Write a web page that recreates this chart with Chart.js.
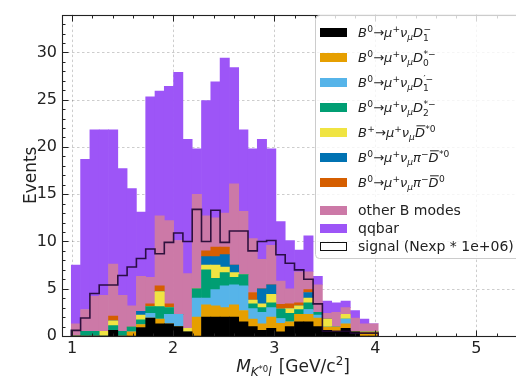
<!DOCTYPE html>
<html>
<head>
<meta charset="utf-8">
<script src="https://cdn.jsdelivr.net/npm/chart.js@4.4.1/dist/chart.umd.min.js"></script>
<style>
  html, body { margin: 0; padding: 0; overflow: hidden; background: #ffffff; width: 516px; height: 378px; }
  #c { position: absolute; left: 0; top: 0; }
</style>
</head>
<body>
<canvas id="c" width="530" height="378" style="width:530px;height:378px"></canvas>
<script>
// ---------------- data ----------------
const binStart = 0.992;       // first bin edge (GeV/c^2)
const binWidth = 0.092;       // bin width
const xTicks = [1, 2, 3, 4, 5];
const yTicks = [0, 5, 10, 15, 20, 25, 30];

const seriesNames = [
  "B0 -> mu+ nu D1-", "B0 -> mu+ nu D0*-", "B0 -> mu+ nu D1'-", "B0 -> mu+ nu D2*-",
  "B+ -> mu+ nu D*0bar", "B0 -> mu+ nu pi- D*0bar", "B0 -> mu+ nu pi- D0bar",
  "other B modes", "qqbar"
];

const sD1     = [0,0,0,0,0.6,0,0,0.9,1.9,1.3,1.3,1.0,0.45,0,2.0,2.0,2.0,2.0,1.5,1.0,0.6,0.8,0.45,1.0,1.5,1.5,1.0,0.6,0.45,0.8,0.45,0,0];
const sD0s    = [0,0,0,0,0,0,0.45,0.3,0,0.5,0,0,0,2.0,1.3,1.2,1.0,1.3,1.2,0.8,0.7,1.2,0.9,0.5,0.8,0.8,0.9,0.35,0.5,0.5,0,0.45,0.45];
const sD1p    = [0,0,0,0,0,0,0,0,0.5,0,1.0,1.3,0,2.0,0.7,1.7,2.3,2.1,2.6,1.1,1.2,1.0,0.5,0,0,0.5,0.3,0,0,0.5,0,0,0];
const sD2s    = [0,0.5,0.5,0,0.5,0.5,0.5,0.5,0.7,1.3,0.7,0,0,1.0,3.0,1.2,1.4,0.8,1.2,0.5,0.5,0.5,1.0,0.9,0.5,0.7,0.3,0,0,0,0,0,0];
const sBpDs0  = [0,0,0,0.5,0.5,0,0,0.5,0,1.6,0,0,0.35,0,0.5,1.4,0.6,0.5,0,0.4,0.4,0.9,0,0.5,0.4,0.5,0,0.85,0,0.5,0,0,0];
const sPiDs0  = [0,0,0,0,0,0,0,0.4,0,0,0,0,0,0,0.9,0.9,1.3,0.8,0,0,1.6,1.0,0,0,0,0.6,0,0,0,0,0,0,0];
const sPiD0   = [0,0,0,0,0.5,0,0,0,0.3,0.6,0.4,0,0,0,0.6,1.0,0.8,0,0,0.8,0,0,0.5,0.5,0.3,0.3,0,0,0,0,0,0,0];
const sOtherB = [1.3,2.3,3.7,3.8,5.5,3.8,2.25,3.7,2.8,7.4,8.8,7.8,5.8,10.0,3.7,3.1,3.6,8.6,6.7,5.7,3.1,4.2,2.45,1.6,3.3,1.9,2.9,0.6,1.55,0.7,1.45,0.85,0.85];
const sQQbar  = [6.2,15.9,17.6,17.5,14.2,13.4,12.4,6.8,19.1,13.2,14.2,17.8,14.2,4.8,12.2,14.4,16.4,12.3,8.6,9.5,12.7,10.2,6.3,5.1,2.3,3.8,0.9,1.3,1.0,0.7,0.8,0.5,0];
const sSignal = [0.6,1.9,4.5,5.4,5.4,6.4,7.3,8.2,9.2,8.7,9.9,10.9,10.0,13.4,10.0,13.3,9.9,11.1,11.1,9.0,10.0,10.1,8.6,7.7,7.0,6.0,3.4,0.5,0.5,0.5,0.3,0.3,0.3];

const stackSeries = [sD1, sD0s, sD1p, sD2s, sBpDs0, sPiDs0, sPiD0, sOtherB, sQQbar];
const stackColors = ['#000000', '#E69F00', '#56B4E9', '#009E73', '#F0E442', '#0072B2', '#D55E00', '#CC79A7', '#9d55f7'];
const signalColor = 'rgba(30,5,50,0.9)';

// ---------------- build datasets ----------------
const nBins = sSignal.length;
const centers = [];
for (let i = 0; i < nBins; i++) centers.push(binStart + (i + 0.5) * binWidth);

const datasets = stackSeries.map((arr, k) => ({
  type: 'bar',
  label: seriesNames[k],
  data: arr.map((v, i) => ({ x: centers[i], y: v })),
  backgroundColor: stackColors[k],
  borderWidth: 0,
  barPercentage: 1.0,
  categoryPercentage: 1.0,
  order: 1
}));

// signal step outline (histtype='step')
const stepPts = [{ x: binStart, y: 0 }];
for (let i = 0; i < nBins; i++) {
  stepPts.push({ x: binStart + i * binWidth, y: sSignal[i] });
  stepPts.push({ x: binStart + (i + 1) * binWidth, y: sSignal[i] });
}
stepPts.push({ x: binStart + nBins * binWidth, y: 0 });
datasets.push({
  type: 'line',
  label: 'signal',
  data: stepPts,
  stack: 'signal',
  borderColor: signalColor,
  borderWidth: 1.6,
  pointRadius: 0,
  tension: 0,
  fill: false,
  order: -1
});

// ---------------- rich text helper (mathtext-like) ----------------
const FONT = '"DejaVu Sans", "Liberation Sans", sans-serif';
function drawRich(ctx, x, y, runs, base, draw) {
  let cx = x, pend = 0;
  for (const r of runs) {
    const sz = base * (r.s || 1);
    ctx.font = (r.it ? 'italic ' : '') + sz.toFixed(2) + 'px ' + FONT;
    const w = ctx.measureText(r.t).width;
    const dx = (r.dx || 0) * base;
    const sx = cx + dx, sy = y + (r.dy || 0) * base;
    if (draw) {
      ctx.fillText(r.t, sx, sy);
      if (r.bar) {
        ctx.save();
        ctx.lineWidth = Math.max(1, base * 0.06);
        ctx.strokeStyle = ctx.fillStyle;
        ctx.beginPath();
        const by = sy - sz * 0.86;
        ctx.moveTo(sx + sz * 0.12, by);
        ctx.lineTo(sx + w + sz * 0.02, by);
        ctx.stroke();
        ctx.restore();
      }
    }
    if (r.stack) { pend = Math.max(pend, w + dx); continue; }
    cx += Math.max(w + dx + (r.after || 0) * base, pend);
    pend = 0;
  }
  return cx - x;
}
const SUP = -0.42, SUB = 0.22, S = 0.7;
const tB0 = [{ t: 'B', it: 1 }, { t: '0', s: S, dy: SUP, dx: 0.02 }];
const tBp = [{ t: 'B', it: 1 }, { t: '+', s: S, dy: SUP, dx: 0.02 }];
const tArr = [{ t: '\u2192', dx: 0.02, after: 0.0 }];
const tMuNu = [{ t: '\u03bc', it: 1 }, { t: '+', s: S, dy: SUP }, { t: '\u03bd', it: 1 }, { t: '\u03bc', it: 1, s: S, dy: SUB }];
function tD(sub, sup) { return [{ t: 'D', it: 1 }, { t: sub, s: S, dy: 0.3, stack: 1 }, { t: sup, s: S, dy: SUP, dx: 0.03 }]; }
function tDbar(sup) { return [{ t: 'D', it: 1, bar: 1 }, { t: sup, s: S, dy: SUP, dx: 0.03 }]; }
const tPi = [{ t: '\u03c0', it: 1 }, { t: '\u2212', s: S, dy: SUP }];
const legendItems = [
  { color: stackColors[0], math: 1, runs: [...tB0, ...tArr, ...tMuNu, ...tD('1', '\u2212')] },
  { color: stackColors[1], math: 1, runs: [...tB0, ...tArr, ...tMuNu, ...tD('0', '*\u2212')] },
  { color: stackColors[2], math: 1, runs: [...tB0, ...tArr, ...tMuNu, ...tD('1', '\u2032\u2212')] },
  { color: stackColors[3], math: 1, runs: [...tB0, ...tArr, ...tMuNu, ...tD('2', '*\u2212')] },
  { color: stackColors[4], math: 1, runs: [...tBp, ...tArr, ...tMuNu, ...tDbar('*0')] },
  { color: stackColors[5], math: 1, runs: [...tB0, ...tArr, ...tMuNu, ...tPi, ...tDbar('*0')] },
  { color: stackColors[6], math: 1, runs: [...tB0, ...tArr, ...tMuNu, ...tPi, ...tDbar('0')] },
  { color: stackColors[7], runs: [{ t: 'other B modes' }] },
  { color: stackColors[8], runs: [{ t: 'qqbar' }] },
  { color: null, runs: [{ t: 'signal (Nexp * 1e+06)' }] }
];
const legendRowY = [32, 57, 82, 107, 132, 157, 182, 210, 228, 246];

// ---------------- decorations plugin ----------------
const deco = {
  id: 'deco',
  beforeDatasetsDraw(chart) {
    const { ctx, chartArea: a, scales: { x, y } } = chart;
    ctx.save();
    ctx.strokeStyle = 'rgba(0,0,0,0.22)';
    ctx.lineWidth = 0.9;
    ctx.setLineDash([2.5, 2.5]);
    for (const v of xTicks) {
      const px = Math.round(x.getPixelForValue(v)) + 0.5;
      ctx.beginPath(); ctx.moveTo(px, a.top); ctx.lineTo(px, a.bottom); ctx.stroke();
    }
    for (const v of yTicks) {
      if (v === 0) continue;
      const py = Math.round(y.getPixelForValue(v)) + 0.5;
      ctx.beginPath(); ctx.moveTo(a.left, py); ctx.lineTo(a.right, py); ctx.stroke();
    }
    ctx.restore();
  },
  afterDatasetsDraw(chart) {
    const { ctx, chartArea: a, scales: { x, y } } = chart;
    ctx.save();
    // frame
    ctx.strokeStyle = '#222';
    ctx.lineWidth = 1.1;
    ctx.strokeRect(Math.round(a.left) + 0.5, Math.round(a.top) + 0.5, Math.round(a.right - a.left), Math.round(a.bottom - a.top));
    // inward ticks
    ctx.lineWidth = 1;
    const L = Math.round(a.left) + 0.5, R = Math.round(a.right) + 0.5, T = Math.round(a.top) + 0.5, B = Math.round(a.bottom) + 0.5;
    ctx.beginPath();
    for (let v = 0; v <= 34; v += 1) {
      const py = Math.round(y.getPixelForValue(v)) + 0.5;
      const len = (v % 5 === 0) ? 6 : 3;
      ctx.moveTo(L, py); ctx.lineTo(L + len, py);
      ctx.moveTo(R, py); ctx.lineTo(R - len, py);
    }
    for (let k = 5; k <= 27; k++) {
      const v = k * 0.2;
      const px = Math.round(x.getPixelForValue(v)) + 0.5;
      const len = (k % 5 === 0) ? 6 : 3;
      ctx.moveTo(px, B); ctx.lineTo(px, B - len);
      ctx.moveTo(px, T); ctx.lineTo(px, T + len);
    }
    ctx.stroke();

    // axis titles
    ctx.fillStyle = '#222';
    ctx.textBaseline = 'alphabetic';
    ctx.textAlign = 'left';
    ctx.save();
    ctx.translate(36, (a.top + a.bottom) / 2);
    ctx.rotate(-Math.PI / 2);
    ctx.font = '17px ' + FONT;
    ctx.textAlign = 'center';
    ctx.fillText('Events', 0, 0);
    ctx.restore();

    const xt = [
      { t: 'M', it: 1 },
      { t: 'K', it: 1, s: 0.7, dy: 0.25 },
      { t: '*0', s: 0.5, dy: -0.02 },
      { t: 'l', it: 1, s: 0.7, dy: 0.25, after: 0.1 },
      { t: ' [GeV/c' },
      { t: '2', s: 0.7, dy: -0.42 },
      { t: ']' }
    ];
    const xs = 17;
    const w = drawRich(ctx, 0, 0, xt, xs, false);
    drawRich(ctx, 293 - w / 2, 372, xt, xs, true);

    // legend
    const lx = 315, ly = 15, lw = 208, lh = 243;
    ctx.beginPath();
    if (ctx.roundRect) ctx.roundRect(lx + 0.5, ly + 0.5, lw, lh, 4); else ctx.rect(lx + 0.5, ly + 0.5, lw, lh);
    ctx.fillStyle = 'rgba(255,255,255,0.8)';
    ctx.fill();
    ctx.strokeStyle = '#cccccc';
    ctx.lineWidth = 1;
    ctx.stroke();
    legendItems.forEach((it, i) => {
      const cy = legendRowY[i];
      if (it.color) {
        ctx.fillStyle = it.color;
        ctx.fillRect(320, cy - 4, 27, 9);
      } else {
        ctx.fillStyle = '#fff';
        ctx.fillRect(320.5, cy - 3.5, 26, 8);
        ctx.strokeStyle = '#111';
        ctx.lineWidth = 1;
        ctx.strokeRect(320.5, cy - 3.5, 26, 8);
      }
      ctx.fillStyle = '#222';
      drawRich(ctx, 358, cy + 5, it.runs, it.math ? 13 : 14, true);
    });
    ctx.restore();
  }
};

// ---------------- chart ----------------
new Chart(document.getElementById('c').getContext('2d'), {
  type: 'bar',
  data: { datasets },
  options: {
    responsive: false,
    animation: false,
    devicePixelRatio: 1,
    layout: { padding: { top: 7, right: 3, left: 0, bottom: 0 } },
    plugins: { legend: { display: false }, tooltip: { enabled: false } },
    scales: {
      x: {
        type: 'linear', min: 0.9, max: 5.5, stacked: true, offset: false,
        grid: { display: false, drawTicks: false },
        border: { display: false },
        afterBuildTicks: s => { s.ticks = xTicks.map(v => ({ value: v })); },
        afterFit: s => { s.height = 42; },
        ticks: { font: { family: FONT, size: 16 }, color: '#222', padding: 3, maxRotation: 0, autoSkip: false }
      },
      y: {
        type: 'linear', min: 0, max: 34, stacked: true,
        grid: { display: false, drawTicks: false },
        border: { display: false },
        afterBuildTicks: s => { s.ticks = yTicks.map(v => ({ value: v })); },
        afterFit: s => { s.width = 62; },
        ticks: { font: { family: FONT, size: 16 }, color: '#222', padding: 5, autoSkip: false }
      }
    }
  },
  plugins: [deco]
});
</script>
</body>
</html>
